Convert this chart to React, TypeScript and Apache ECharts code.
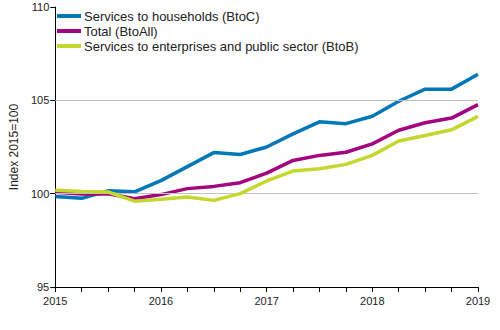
import React, { useEffect, useRef } from "react";
import * as echarts from "echarts";

const quarters = [
  "2015Q1", "2015Q2", "2015Q3", "2015Q4",
  "2016Q1", "2016Q2", "2016Q3", "2016Q4",
  "2017Q1", "2017Q2", "2017Q3", "2017Q4",
  "2018Q1", "2018Q2", "2018Q3", "2018Q4",
  "2019Q1",
];
const btoc = [99.85, 99.75, 100.15, 100.1, 100.7, 101.45, 102.2, 102.1, 102.5, 103.2, 103.85, 103.75, 104.15, 104.95, 105.6, 105.6, 106.4];
const btoall = [100.07, 99.98, 100.0, 99.73, 99.95, 100.27, 100.39, 100.59, 101.1, 101.78, 102.05, 102.22, 102.67, 103.4, 103.8, 104.05, 104.77];
const btob = [100.18, 100.12, 100.09, 99.6, 99.7, 99.82, 99.64, 100.0, 100.68, 101.21, 101.34, 101.57, 102.05, 102.82, 103.12, 103.42, 104.14];
const seriesNames = [
  "Services to households (BtoC)",
  "Total (BtoAll)",
  "Services to enterprises and public sector (BtoB)",
];
const gridValues = [100, 105];
const yAxisName = "Index 2015=100";

const FONT = "'Liberation Sans', Arial, sans-serif";

export default function App() {
  const ref = useRef<HTMLDivElement>(null);
  useEffect(() => {
    document.body.style.margin = "0";
    if (!ref.current) return;
    const chart = echarts.init(ref.current, null, { renderer: "svg" });
    const colors = ["#0077b6", "#a5047f", "#c3d72f"];
    const datas = [btoc, btoall, btob];
    chart.setOption({
      animation: false,
      textStyle: { fontFamily: FONT },
      grid: { left: 53, right: 22, top: 7, bottom: 43 },
      legend: {
        data: seriesNames,
        orient: "vertical",
        left: 57,
        top: 9,
        padding: 0,
        icon: "rect",
        itemWidth: 24,
        itemHeight: 4,
        itemGap: 1,
        textStyle: { fontFamily: FONT, fontSize: 13, color: "#222", lineHeight: 14, padding: [0, 0, 0, -2] },
      },
      xAxis: {
        type: "category",
        data: quarters,
        boundaryGap: false,
        axisLine: { show: true, lineStyle: { color: "#000", width: 1 } },
        axisTick: { show: true, interval: 0, length: 5, lineStyle: { color: "#000" } },
        axisLabel: {
          interval: 3,
          color: "#222",
          fontSize: 11,
          fontFamily: FONT,
          margin: 8,
          formatter: (v: string) => v.slice(0, 4),
        },
        splitLine: { show: false },
      },
      yAxis: {
        type: "value",
        min: 95,
        max: 110,
        interval: 5,
        name: yAxisName,
        nameLocation: "middle",
        nameGap: 34,
        nameTextStyle: { fontFamily: FONT, fontSize: 12, color: "#222" },
        axisLine: { show: true, lineStyle: { color: "#000", width: 1 } },
        axisTick: { show: true, length: 5, lineStyle: { color: "#000" } },
        axisLabel: { color: "#222", fontSize: 11, fontFamily: FONT, margin: 6 },
        splitLine: { show: false },
      },
      series: [
        {
          name: "grid",
          type: "line",
          data: [],
          z: 1,
          silent: true,
          markLine: {
            silent: true,
            symbol: "none",
            label: { show: false },
            lineStyle: { color: "#c0c0c0", width: 1, type: "solid" },
            data: gridValues.map((v) => ({ yAxis: v })),
          },
        },
        ...seriesNames.map((n, i) => ({
          name: n,
          type: "line",
          data: datas[i],
          z: 3 + i,
          showSymbol: false,
          symbol: "none",
          lineStyle: { color: colors[i], width: 3.5 },
          itemStyle: { color: colors[i] },
        })),
      ],
    });
    return () => chart.dispose();
  }, []);
  return <div ref={ref} style={{ width: 500, height: 330 }} />;
}
